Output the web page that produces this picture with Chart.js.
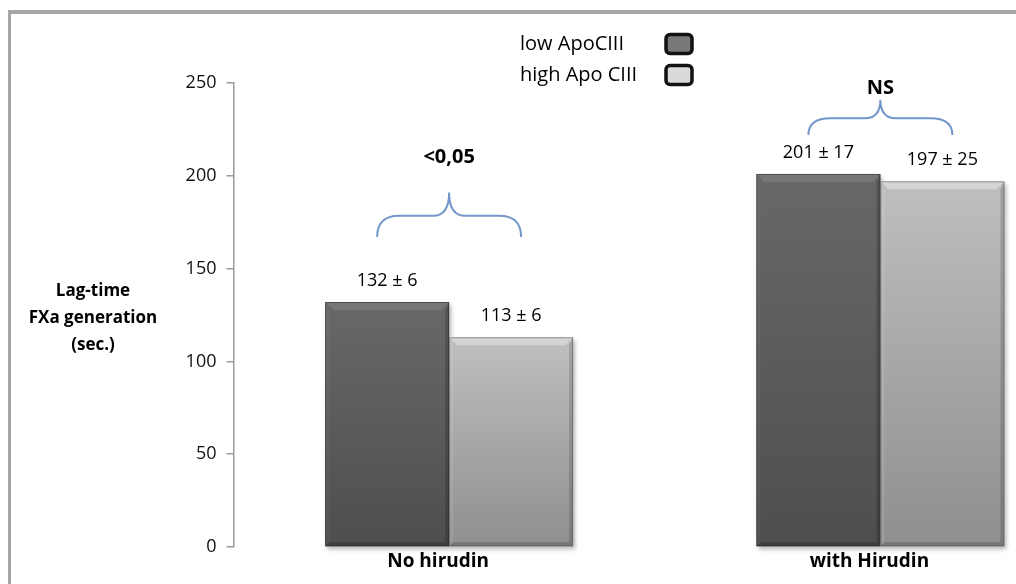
<!DOCTYPE html>
<html>
<head>
<meta charset="utf-8">
<script src="https://cdn.jsdelivr.net/npm/chart.js@4.4.1/dist/chart.umd.min.js"></script>
<style>
  html, body { margin: 0; padding: 0; background: #fff; overflow: hidden; }
  #viewport { position: relative; width: 1016px; height: 584px; overflow: hidden; background: #fff; }
  #frame { position: absolute; left: 8px; top: 10px; width: 1100px; height: 700px;
           border-left: 3px solid #a6a6a6; border-top: 4px solid #a6a6a6; box-sizing: border-box; }
  #wrap { position: absolute; left: 0; top: 0; width: 1100px; height: 584px; }
</style>
</head>
<body>
<div id="viewport">
  <div id="frame"></div>
  <div id="wrap"><canvas id="chart"></canvas></div>
</div>
<script>
// Groups along the x axis
const categories = ['No hirudin', 'with Hirudin'];
// Series names
const seriesNames = ['low ApoCIII', 'high Apo CIII'];
// Mean lag-time (sec.) per group
const lowApoCIII = [132, 201];
const highApoCIII = [113, 197];
// Standard deviations shown in the value labels
const lowSD = [6, 17];
const highSD = [6, 25];
// Significance between the two series in each group
const pValues = ['<0,05', 'NS'];
// Y axis range and step
const yMin = 0;
const yMax = 250;
const yStep = 50;

const FONT = '"Open Sans", Lato, sans-serif';
const sdValues = [lowSD, highSD];

function barGradient(ctx, top, bottom, stops) {
  const g = ctx.chart.ctx.createLinearGradient(0, top, 0, bottom);
  g.addColorStop(0, stops[0]);
  g.addColorStop(1, stops[1]);
  return g;
}

function scriptedFill(stops) {
  return function (c) {
    const chart = c.chart;
    const area = chart.chartArea;
    if (!area || !chart.scales.y || c.raw === undefined) return stops[1];
    const top = chart.scales.y.getPixelForValue(c.raw);
    return barGradient(c, top, area.bottom, stops);
  };
}

// Bevelled look on each bar: light top band, darker sides and bottom
const bevelPlugin = {
  id: 'bevel',
  beforeDatasetsDraw(chart) {
    const ctx = chart.ctx;
    ctx.save();
    chart.data.datasets.forEach((ds, di) => {
      chart.getDatasetMeta(di).data.forEach(bar => {
        const l = bar.x - bar.width / 2, r = bar.x + bar.width / 2;
        ctx.fillStyle = 'rgba(0,0,0,0.28)';
        ctx.filter = 'blur(2px)';
        ctx.fillRect(l + 2, bar.y + 3, r - l, bar.base - bar.y);
      });
    });
    ctx.filter = 'none';
    ctx.restore();
  },
  afterDatasetsDraw(chart, args, opts) {
    const ctx = chart.ctx;
    const b = opts.size;
    ctx.save();
    chart.data.datasets.forEach((ds, di) => {
      const tone = opts.tones[di];
      chart.getDatasetMeta(di).data.forEach(bar => {
        const l = bar.x - bar.width / 2, r = bar.x + bar.width / 2;
        const t = bar.y, bt = bar.base;
        // top band
        ctx.fillStyle = tone.top;
        ctx.beginPath();
        ctx.moveTo(l, t); ctx.lineTo(r, t); ctx.lineTo(r - b, t + b); ctx.lineTo(l + b, t + b);
        ctx.closePath(); ctx.fill();
        // left band
        ctx.fillStyle = tone.left;
        ctx.beginPath();
        ctx.moveTo(l, t); ctx.lineTo(l + b * 0.5, t + b); ctx.lineTo(l + b * 0.5, bt - b * 0.5); ctx.lineTo(l, bt);
        ctx.closePath(); ctx.fill();
        // right band
        ctx.fillStyle = tone.right;
        ctx.beginPath();
        ctx.moveTo(r, t); ctx.lineTo(r - b * 0.5, t + b); ctx.lineTo(r - b * 0.5, bt - b * 0.5); ctx.lineTo(r, bt);
        ctx.closePath(); ctx.fill();
        // bottom band
        ctx.fillStyle = tone.bottom;
        ctx.beginPath();
        ctx.moveTo(l, bt); ctx.lineTo(r, bt); ctx.lineTo(r - b * 0.5, bt - b * 0.5); ctx.lineTo(l + b * 0.5, bt - b * 0.5);
        ctx.closePath(); ctx.fill();
        // thin outline
        ctx.strokeStyle = tone.edge;
        ctx.lineWidth = 1;
        ctx.strokeRect(l + 0.5, t + 0.5, r - l - 1, bt - t - 1);
      });
    });
    ctx.restore();
  }
};

// "mean ± SD" above each bar
const valueLabelPlugin = {
  id: 'valueLabels',
  afterDatasetsDraw(chart, args, opts) {
    const ctx = chart.ctx;
    ctx.save();
    ctx.font = opts.font;
    ctx.fillStyle = opts.color;
    ctx.textAlign = 'center';
    ctx.textBaseline = 'middle';
    chart.data.datasets.forEach((ds, di) => {
      chart.getDatasetMeta(di).data.forEach((bar, i) => {
        ctx.fillText(ds.data[i] + ' \u00B1 ' + sdValues[di][i], bar.x, bar.y - opts.offset);
      });
    });
    ctx.restore();
  }
};

// Curly braces with the significance text between the two bars of a group
const bracePlugin = {
  id: 'braces',
  afterDatasetsDraw(chart, args, opts) {
    const ctx = chart.ctx;
    const y = chart.scales.y;
    const m0 = chart.getDatasetMeta(0).data;
    const m1 = chart.getDatasetMeta(1).data;
    ctx.save();
    opts.items.forEach((it, i) => {
      const x0 = m0[i].x - opts.inset;
      const x1 = m1[i].x + opts.inset;
      const xc = (x0 + x1) / 2;
      const yEnd = y.getPixelForValue(it.ends);
      const yTip = y.getPixelForValue(it.tip);
      const yMid = (yEnd + yTip) / 2 + 1;
      const rx = 22, rc = 16;
      ctx.strokeStyle = opts.color;
      ctx.lineWidth = 2;
      ctx.beginPath();
      ctx.moveTo(x0, yEnd);
      ctx.quadraticCurveTo(x0, yMid, x0 + rx, yMid);
      ctx.lineTo(xc - rc, yMid);
      ctx.quadraticCurveTo(xc, yMid, xc, yTip);
      ctx.quadraticCurveTo(xc, yMid, xc + rc, yMid);
      ctx.lineTo(x1 - rx, yMid);
      ctx.quadraticCurveTo(x1, yMid, x1, yEnd);
      ctx.stroke();
      ctx.font = opts.font;
      ctx.fillStyle = opts.textColor;
      ctx.textAlign = 'center';
      ctx.textBaseline = 'middle';
      ctx.fillText(pValues[i], xc, y.getPixelForValue(it.text));
    });
    ctx.restore();
  }
};

// Horizontal y axis caption on the left
const yCaptionPlugin = {
  id: 'yCaption',
  afterDraw(chart, args, opts) {
    const ctx = chart.ctx;
    ctx.save();
    ctx.font = opts.font;
    ctx.fillStyle = opts.color;
    ctx.textAlign = 'center';
    ctx.textBaseline = 'middle';
    opts.lines.forEach((ln, i) => ctx.fillText(ln, opts.x, opts.y + i * opts.lineHeight));
    ctx.restore();
  }
};

// Legend: name on the left, framed swatch on the right
const swatchLegendPlugin = {
  id: 'swatchLegend',
  afterDraw(chart, args, opts) {
    const ctx = chart.ctx;
    ctx.save();
    ctx.font = opts.font;
    ctx.textAlign = 'left';
    ctx.textBaseline = 'middle';
    chart.data.datasets.forEach((ds, i) => {
      const cy = opts.y + i * opts.rowHeight;
      ctx.fillStyle = opts.color;
      ctx.fillText(ds.label, opts.x, cy);
      const bx = opts.boxX, bw = opts.boxW, bh = opts.boxH;
      ctx.beginPath();
      ctx.roundRect(bx, cy - bh / 2, bw, bh, 4);
      ctx.fillStyle = opts.swatches[i];
      ctx.fill();
      ctx.lineWidth = 3.5;
      ctx.strokeStyle = '#111';
      ctx.stroke();
    });
    ctx.restore();
  }
};

const darkStops = ['#686868', '#4e4e4e'];
const lightStops = ['#bfbfbf', '#8f8f8f'];

new Chart(document.getElementById('chart'), {
  type: 'bar',
  data: {
    labels: categories,
    datasets: [
      { label: seriesNames[0], data: lowApoCIII, backgroundColor: scriptedFill(darkStops), borderWidth: 0 },
      { label: seriesNames[1], data: highApoCIII, backgroundColor: scriptedFill(lightStops), borderWidth: 0 }
    ]
  },
  options: {
    responsive: true,
    maintainAspectRatio: false,
    animation: false,
    devicePixelRatio: 1,
    datasets: { bar: { categoryPercentage: 0.575, barPercentage: 1.0 } },
    layout: { padding: { left: 0, right: 4, top: 83, bottom: 0 } },
    scales: {
      x: {
        grid: { display: false, drawTicks: false },
        border: { display: false },
        ticks: { color: '#000', font: { family: FONT, size: 19, weight: 'bold' }, padding: 3, labelOffset: -11 },
        afterFit(s) { s.height = 37; }
      },
      y: {
        min: yMin, max: yMax,
        ticks: { stepSize: yStep, color: '#111', font: { family: FONT, size: 18 }, padding: 10 },
        grid: { drawOnChartArea: false, drawTicks: true, tickLength: 7, color: '#9a9a9a', lineWidth: 1.5 },
        border: { display: true, color: '#9a9a9a', width: 1.5 },
        afterFit(s) { s.width = 233.5; }
      }
    },
    plugins: {
      legend: { display: false },
      tooltip: { enabled: false },
      bevel: {
        size: 8,
        tones: [
          { top: 'rgba(255,255,255,0.10)', left: 'rgba(255,255,255,0.04)', right: 'rgba(0,0,0,0.18)', bottom: 'rgba(0,0,0,0.20)', edge: 'rgba(40,40,40,0.55)' },
          { top: 'rgba(255,255,255,0.35)', left: 'rgba(255,255,255,0.10)', right: 'rgba(0,0,0,0.15)', bottom: 'rgba(0,0,0,0.18)', edge: 'rgba(90,90,90,0.55)' }
        ]
      },
      valueLabels: { font: '18px ' + FONT, color: '#000', offset: 21 },
      braces: {
        color: '#7397c9', textColor: '#000', font: 'bold 20px ' + FONT, inset: 10,
        items: [
          { ends: 167, tip: 191, text: 210 },
          { ends: 222, tip: 241, text: 247 }
        ]
      },
      yCaption: { lines: ['Lag-time', 'FXa generation', '(sec.)'], x: 93, y: 291, lineHeight: 27, font: 'bold 17px ' + FONT, color: '#000' },
      swatchLegend: { x: 520, y: 44, rowHeight: 31, boxX: 666, boxW: 26, boxH: 19, font: '20px ' + FONT, color: '#000', swatches: ['#777777', '#d9d9d9'] }
    }
  },
  plugins: [bevelPlugin, valueLabelPlugin, bracePlugin, yCaptionPlugin, swatchLegendPlugin]
});
</script>
</body>
</html>
